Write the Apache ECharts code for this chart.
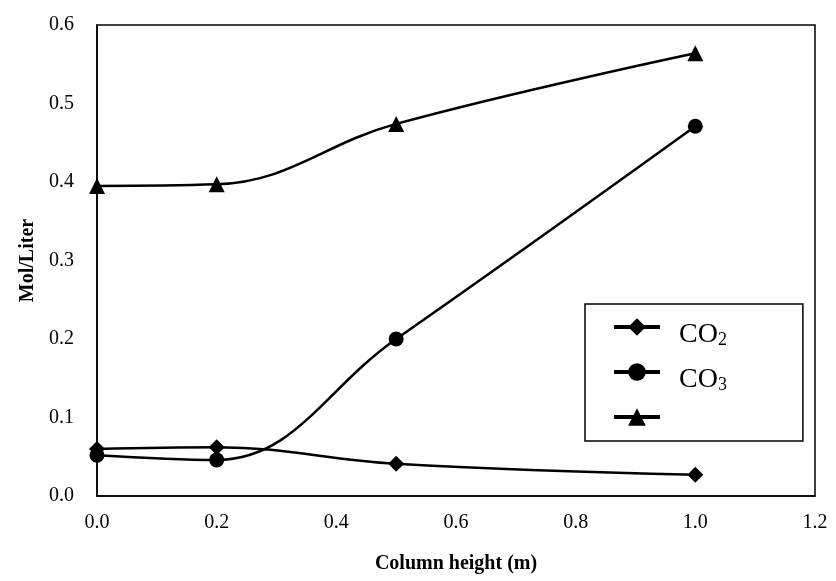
<!DOCTYPE html>
<html>
<head>
<meta charset="utf-8">
<script src="https://cdn.jsdelivr.net/npm/echarts@6/dist/echarts.min.js"></script>
<style>html,body{margin:0;padding:0;background:#fff;}#c{width:836px;height:581px;}</style>
</head>
<body>
<div id="c"></div>
<script>
const xValues = [0.0, 0.2, 0.5, 1.0];
const co2 = [0.060, 0.062, 0.041, 0.027];
const co3 = [0.052, 0.046, 0.200, 0.471];
const third = [0.395, 0.397, 0.474, 0.564];
const seriesNames = ['CO2', 'CO3', 'S3'];
const legendLabels = { CO2: '{a|CO}{s|2}', CO3: '{a|CO}{s|3}', S3: '{a| }{s| }' };
const xTicks = { min: 0, max: 1.2, interval: 0.2 };
const yTicks = { min: 0, max: 0.6, interval: 0.1 };
const xName = 'Column height (m)';
const yName = 'Mol/Liter';

const font = 'Liberation Serif, Times New Roman, serif';
const symbols = ['diamond', 'circle', 'triangle'];
const sizes = [16, 15, 16];
const dataSets = [co2, co3, third];

const chart = echarts.init(document.getElementById('c'), null, { renderer: 'canvas' });
chart.setOption({
  animation: false,
  backgroundColor: '#fff',
  grid: { left: 97, right: 21, top: 25, bottom: 85, show: true, borderColor: '#000', borderWidth: 1.5, backgroundColor: 'transparent' },
  xAxis: {
    type: 'value', min: xTicks.min, max: xTicks.max, interval: xTicks.interval,
    name: xName, nameLocation: 'middle', nameGap: 58,
    nameTextStyle: { fontFamily: font, fontSize: 20, fontWeight: 'bold', color: '#000' },
    axisLine: { show: true, lineStyle: { color: '#000', width: 1.5 } },
    axisTick: { show: false },
    splitLine: { show: false },
    axisLabel: { fontFamily: font, fontSize: 20, color: '#000', margin: 17, formatter: v => v.toFixed(1) }
  },
  yAxis: {
    type: 'value', min: yTicks.min, max: yTicks.max, interval: yTicks.interval,
    name: yName, nameLocation: 'middle', nameGap: 58,
    nameTextStyle: { fontFamily: font, fontSize: 20, fontWeight: 'bold', color: '#000' },
    axisLine: { show: true, lineStyle: { color: '#000', width: 1.5 } },
    axisTick: { show: false },
    splitLine: { show: false },
    axisLabel: { fontFamily: font, fontSize: 20, color: '#000', margin: 23, formatter: v => v.toFixed(1) }
  },
  legend: {
    orient: 'vertical', left: 585, top: 304,
    padding: [1, 76, 2, 27],
    backgroundColor: '#fff', borderColor: '#000', borderWidth: 1.5, borderRadius: 0,
    itemWidth: 46, itemHeight: 22, itemGap: 1,
    data: seriesNames,
    formatter: n => legendLabels[n],
    lineStyle: { width: 4 },
    textStyle: {
      fontFamily: font, color: '#000', fontSize: 28,
      rich: {
        a: { fontFamily: font, fontSize: 28, color: '#000', lineHeight: 28, padding: [15, 0, 0, 14] },
        s: { fontFamily: font, fontSize: 18, color: '#000', lineHeight: 18, padding: [26, 0, 0, 0] }
      }
    }
  },
  series: seriesNames.map((n, i) => ({
    name: n, type: 'line', smooth: 0.4,
    symbol: symbols[i], symbolSize: sizes[i],
    data: xValues.map((x, j) => [x, dataSets[i][j]]),
    lineStyle: { color: '#000', width: 2.5 },
    itemStyle: { color: '#000' },
    clip: false
  }))
});
</script>
</body>
</html>
